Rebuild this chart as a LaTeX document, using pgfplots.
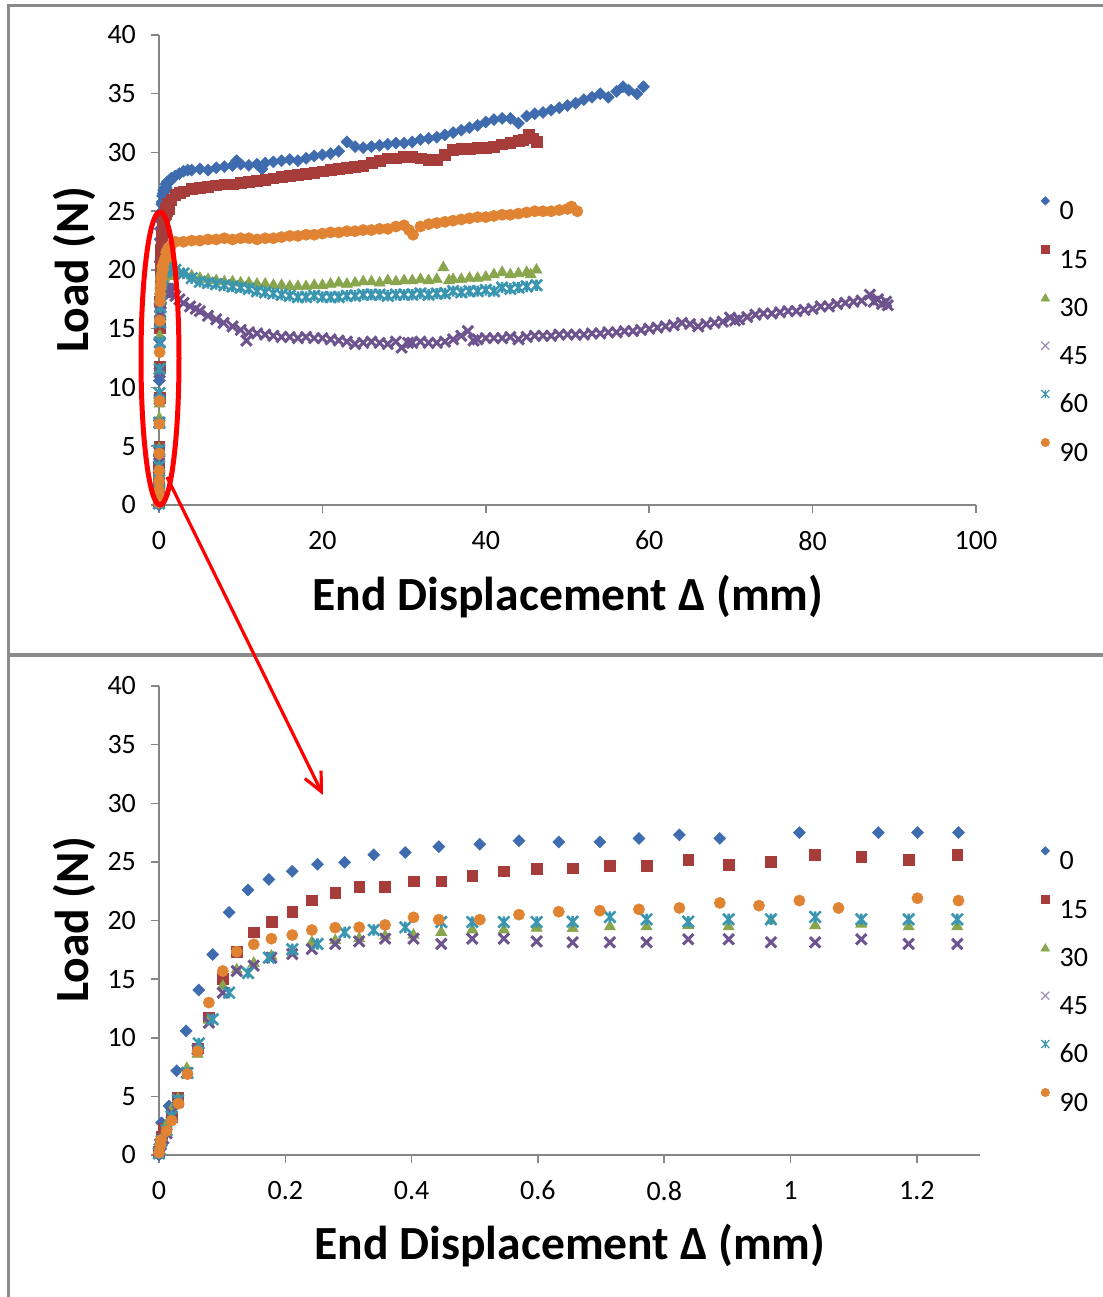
\documentclass[border=0pt]{standalone}
\usepackage{fontspec}
\setmainfont{Carlito}
\usepackage{pgfplots}
\usepackage{pgfplotstable}
\pgfplotsset{compat=1.18}
\usetikzlibrary{arrows.meta}

\definecolor{c0}{RGB}{62,108,174}
\definecolor{c15}{RGB}{166,61,58}
\definecolor{c30}{RGB}{137,165,78}
\definecolor{c45}{RGB}{110,84,142}
\definecolor{c60}{RGB}{58,150,176}
\definecolor{c90}{RGB}{224,132,52}
\definecolor{axgray}{RGB}{134,134,134}
\definecolor{framegray}{RGB}{138,138,138}

\pgfdeclareplotmark{xstar}{%
  \pgfpathmoveto{\pgfqpoint{-\pgfplotmarksize}{-\pgfplotmarksize}}%
  \pgfpathlineto{\pgfqpoint{\pgfplotmarksize}{\pgfplotmarksize}}%
  \pgfpathmoveto{\pgfqpoint{-\pgfplotmarksize}{\pgfplotmarksize}}%
  \pgfpathlineto{\pgfqpoint{\pgfplotmarksize}{-\pgfplotmarksize}}%
  \pgfpathmoveto{\pgfqpoint{0pt}{-\pgfplotmarksize}}%
  \pgfpathlineto{\pgfqpoint{0pt}{\pgfplotmarksize}}%
  \pgfusepathqstroke
}

% ---------- low-range data (0 - 1.27 mm) ----------
\pgfplotstableread{
x y
0 0
0.001 0.6
0.002 1.3
0.004 2.75
0.016 4.18
0.028 7.19
0.043 10.58
0.063 14.07
0.085 17.1
0.111 20.7
0.141 22.6
0.174 23.5
0.211 24.2
0.251 24.8
0.294 24.96
0.340 25.6
0.390 25.8
0.443 26.3
0.508 26.5
0.570 26.8
0.633 26.7
0.698 26.7
0.760 27.0
0.824 27.3
0.888 27.0
1.014 27.5
1.139 27.5
1.201 27.5
1.266 27.5
}\loA
\pgfplotstableread{
x y
0 0.3
0.002 1.0
0.004 1.6
0.008 2.27
0.020 3.27
0.030 4.92
0.061 9.1
0.079 11.74
0.101 15.04
0.123 17.34
0.150 18.99
0.178 19.87
0.211 20.72
0.242 21.72
0.279 22.37
0.317 22.88
0.358 22.88
0.403 23.34
0.447 23.34
0.496 23.8
0.546 24.2
0.598 24.4
0.655 24.45
0.714 24.65
0.772 24.65
0.838 25.2
0.902 24.76
0.969 24.99
1.039 25.6
1.112 25.4
1.187 25.2
1.264 25.6
}\loB
\pgfplotstableread{
x y
0 0.1
0.002 0.7
0.005 1.5
0.012 2.6
0.020 3.9
0.030 4.8
0.044 7.39
0.061 8.6
0.079 11.5
0.101 14.4
0.123 15.8
0.150 16.35
0.178 16.97
0.211 17.34
0.242 18.14
0.279 18.28
0.317 18.45
0.358 18.68
0.403 18.76
0.447 18.99
0.496 19.19
0.546 19.19
0.598 19.36
0.655 19.33
0.714 19.47
0.772 19.47
0.838 19.56
0.902 19.47
0.969 19.98
1.039 19.56
1.112 19.7
1.187 19.47
1.264 19.47
}\loC
\pgfplotstableread{
x y
0 0.2
0.003 0.9
0.007 1.4
0.012 1.85
0.020 3.55
0.030 4.5
0.044 7.0
0.061 9.0
0.079 11.28
0.101 13.84
0.123 15.69
0.150 16.15
0.178 16.83
0.211 17.14
0.242 17.57
0.279 18.0
0.317 18.22
0.358 18.45
0.403 18.45
0.447 18.0
0.496 18.45
0.546 18.45
0.598 18.22
0.655 18.14
0.714 18.14
0.772 18.14
0.838 18.4
0.902 18.4
0.969 18.14
1.039 18.14
1.112 18.4
1.187 18.0
1.264 18.0
}\loD
\pgfplotstableread{
x y
0 0.14
0.001 0.5
0.004 1.2
0.012 2.13
0.020 3.3
0.030 4.69
0.045 7.0
0.063 9.52
0.085 11.57
0.111 13.84
0.141 15.52
0.174 16.83
0.211 17.54
0.251 18.0
0.294 18.99
0.340 19.19
0.390 19.42
0.447 19.87
0.496 19.87
0.546 19.87
0.598 19.87
0.655 19.9
0.714 20.3
0.772 20.1
0.838 19.9
0.902 20.1
0.969 20.1
1.039 20.3
1.112 20.1
1.187 20.1
1.264 20.1
}\loE
\pgfplotstableread{
x y
0 0.2
0.002 0.8
0.003 1.28
0.012 2.05
0.020 2.93
0.031 4.38
0.045 6.9
0.061 8.84
0.079 13.0
0.101 15.69
0.123 17.34
0.150 17.97
0.178 18.45
0.211 18.76
0.242 19.19
0.279 19.39
0.317 19.42
0.358 19.62
0.403 20.27
0.443 20.07
0.508 20.07
0.570 20.5
0.633 20.75
0.698 20.84
0.760 20.95
0.824 21.07
0.888 21.5
0.950 21.27
1.014 21.7
1.076 21.07
1.201 21.9
1.266 21.7
}\loF

% ---------- high-range data (top chart only) ----------
\pgfplotstableread{
x y
1.5 27.8
2 28.0
2.5 28.2
3 28.4
3.5 28.5
4 28.5
5 28.6
6 28.5
7 28.7
8 28.8
9 28.9
9.5 29.3
10 29.0
11 28.9
12 29.0
12.6 28.6
13 29.1
14 29.2
15 29.3
16 29.4
17 29.3
18 29.5
19 29.7
20 29.8
21 29.9
22 30.1
23 30.9
24 30.5
25 30.4
26 30.5
27 30.6
28 30.7
29 30.8
30 30.8
31 30.9
32 31.1
33 31.2
34 31.3
35 31.5
36 31.7
37 31.9
38 32.1
39 32.3
40 32.6
41 32.8
42 32.9
43 32.9
44 32.5
45 33.1
46 33.3
47 33.4
48 33.6
49 33.8
50 34.0
51 34.2
52 34.5
53 34.7
54 35.0
55 34.7
56 35.2
56.8 35.6
57.5 35.3
58.5 35.0
59.3 35.6
}\hiA
\pgfplotstableread{
x y
1.5 26.0
2 26.4
2.5 26.6
3 26.7
4 26.9
5 27.0
6 27.1
7 27.2
8 27.3
9 27.3
10 27.4
11 27.5
12 27.6
13 27.7
14 27.8
15 27.9
16 28.0
17 28.1
18 28.2
19 28.3
20 28.4
21 28.5
22 28.6
23 28.7
24 28.8
25 28.9
26 29.1
27 29.3
28 29.5
29 29.5
30 29.6
31 29.6
32 29.5
33 29.4
34 29.4
35 29.8
36 30.2
37 30.3
38 30.3
39 30.4
40 30.4
41 30.5
42 30.7
43 30.8
44 31.0
44.6 31.1
45.3 31.5
45.8 31.2
46.2 30.9
}\hiB
\pgfplotstableread{
x y
1.5 20.0
2 20.0
3 19.7
4 19.5
5 19.3
6 19.2
7 19.1
8 19.0
9 19.0
10 18.9
11 18.9
12 18.8
13 18.8
14 18.7
15 18.7
16 18.6
17 18.6
18 18.6
19 18.7
20 18.7
21 18.8
22 18.9
23 18.8
24 18.9
25 19.0
26 19.0
27 18.9
28 19.1
29 19.0
30 19.1
31 19.1
32 19.2
33 19.1
34 19.2
34.8 20.2
35.5 19.1
36 19.2
37 19.2
38 19.3
39 19.3
40 19.4
41 19.6
42 19.8
43 19.6
44 19.7
45 19.8
45.5 19.6
46.2 20.0
}\hiC
\pgfplotstableread{
x y
1.3 18.3
2 17.8
2.5 17.5
3 17.2
3.8 16.9
4.5 16.7
5 16.5
6 16.1
7 15.8
7.9 15.5
9 15.2
10 14.9
10.7 14.0
11 14.7
12 14.6
13 14.5
14 14.4
15 14.3
16 14.3
17 14.2
18 14.3
19 14.2
20 14.2
21 14.1
22 14.0
23 13.9
24 13.7
25 13.8
26 13.9
27 13.8
28 13.7
29 13.9
29.7 13.4
30.5 13.8
31 13.8
32 13.9
33 13.8
34 13.8
35 13.9
36 14.1
37 14.4
37.8 14.8
38.5 14.0
39 14.1
40 14.2
41 14.2
42 14.2
43 14.3
44 14.1
45 14.3
46 14.4
47 14.4
48 14.4
49 14.5
50 14.5
51 14.5
52 14.5
53 14.6
54 14.6
55 14.7
56 14.7
57 14.8
58 14.8
59 14.9
60 15.0
61 15.1
62 15.2
63 15.3
64 15.5
65 15.4
66 15.2
67 15.4
68 15.5
69 15.6
69.9 15.95
70.5 15.7
71 15.8
72 16.0
73 16.2
74 16.3
75 16.3
76 16.4
77 16.5
78 16.5
79 16.6
80 16.7
81 16.9
82 16.9
83 17.1
84 17.2
85 17.3
86 17.4
87 17.9
87.5 17.3
88 17.5
88.5 17.1
89 17.3
89.2 17.0
}\hiD
\pgfplotstableread{
x y
1.5 20.1
2 20.0
3 19.7
4 19.3
5 19.0
6 18.9
7 18.8
8 18.7
9 18.6
10 18.5
11 18.4
12 18.2
13 18.1
14 18.0
15 17.9
16 17.8
17 17.7
18 17.7
19 17.8
20 17.7
21 17.7
22 17.7
23 17.8
24 17.8
25 17.9
26 17.9
27 17.9
28 17.8
29 17.9
30 17.9
31 17.9
32 18.0
33 17.9
34 18.0
35 18.0
36 18.2
37 18.1
38 18.2
39 18.2
40 18.3
41 18.2
42 18.5
43 18.4
44 18.5
45 18.6
46.2 18.7
}\hiE
\pgfplotstableread{
x y
1.5 22.1
2 22.4
3 22.4
4 22.5
5 22.5
6 22.6
7 22.6
8 22.7
9 22.6
10 22.7
11 22.7
12 22.6
13 22.7
14 22.7
15 22.8
16 22.9
17 22.9
18 23.0
19 23.0
20 23.1
21 23.2
22 23.2
23 23.3
24 23.3
25 23.4
26 23.4
27 23.5
28 23.5
29 23.7
30 23.8
30.6 23.4
31.1 23.0
32 23.7
33 23.9
34 24.0
35 24.1
36 24.2
37 24.3
38 24.4
39 24.5
40 24.5
41 24.6
42 24.7
43 24.7
44 24.8
45 24.9
46 25.0
47 25.0
48 25.0
49 25.1
50 25.2
50.5 25.4
51.2 25.0
}\hiF

\pgfplotsset{
  sA/.style={only marks, color=c0, mark=square*, mark size=2.1pt,
    mark options={rotate=45, line width=0.3pt},
    legend image code/.code={\draw[only marks, color=c0, mark=square*, mark size=1.45pt, mark options={rotate=45}] plot coordinates {(0pt,4.6pt)};}},
  sB/.style={only marks, color=c15, mark=square*, mark size=2.7pt,
    mark options={line width=0.3pt},
    legend image code/.code={\draw[only marks, color=c15, mark=square*, mark size=2.1pt] plot coordinates {(0pt,4.6pt)};}},
  sC/.style={only marks, color=c30, mark=triangle*, mark size=3.2pt,
    mark options={line width=0.3pt},
    legend image code/.code={\draw[only marks, color=c30, mark=triangle*, mark size=2.5pt] plot coordinates {(0pt,4pt)};}},
  sD/.style={only marks, color=c45, mark=x, mark size=3.7pt,
    mark options={line width=1.5pt},
    legend image code/.code={\draw[only marks, color=c45!70, mark=x, mark size=2.8pt, mark options={line width=0.6pt}] plot coordinates {(0pt,4.6pt)};}},
  sE/.style={only marks, color=c60, mark=xstar, mark size=2.8pt,
    mark options={line width=1.3pt},
    legend image code/.code={\draw[only marks, color=c60, mark=xstar, mark size=2pt, mark options={line width=0.6pt}] plot coordinates {(0pt,4.6pt)};}},
  sF/.style={only marks, color=c90, mark=*, mark size=2.8pt,
    mark options={line width=0.3pt},
    legend image code/.code={\draw[only marks, color=c90, mark=*, mark size=2.1pt] plot coordinates {(0pt,4.6pt)};}},
  common/.style={
    scale only axis,
    axis x line*=bottom, axis y line*=left,
    axis line style={draw=axgray, line width=0.75pt, -},
    x axis line style={-}, y axis line style={-},
    every tick/.style={draw=axgray, line width=0.75pt},
    tick align=outside, major tick length=4pt,
    ymin=0, ymax=40, ytick={0,5,...,40},
    tick label style={font=\fontsize{14}{16}\selectfont, text=black},
    yticklabel style={xshift=-4pt},
    xticklabel style={yshift=-5.5pt},
    /pgf/number format/assume math mode=true,
    clip=false,
    legend cell align=left,
    legend style={draw=none, fill=none, at={(axis description cs:0,0)}, anchor=west,
      xshift=441pt, yshift=87.5pt, inner sep=0pt, outer sep=0pt,
      row sep=11.8pt, column sep=4pt, font=\fontsize{14}{16}\selectfont,
      nodes={inner sep=1pt, text height=9.5pt, text depth=0pt}},
  },
}

\begin{document}
\begin{tikzpicture}
\path[use as bounding box] (0pt,0pt) rectangle (551.5pt,648.5pt);
% frames
\draw[framegray, line width=1.2pt] (4.25pt,0pt) -- (4.25pt,645.75pt) -- (551.5pt,645.75pt);
\draw[framegray, line width=2pt] (4.25pt,321pt) -- (551.5pt,321pt);

% ---------- top chart ----------
\begin{axis}[common,
  at={(79.5pt,396pt)}, anchor=south west,
  width=408.5pt, height=235pt,
  xmin=0, xmax=100, xtick={0,20,40,60,80,100}]
\addplot[sA] table[x=x,y=y] {\loA};
\addlegendentry{0}
\addplot[sA, forget plot] table[x=x,y=y] {\hiA};
\addplot[sB] table[x=x,y=y] {\loB};
\addlegendentry{15}
\addplot[sB, forget plot] table[x=x,y=y] {\hiB};
\addplot[sC] table[x=x,y=y] {\loC};
\addlegendentry{30}
\addplot[sC, forget plot] table[x=x,y=y] {\hiC};
\addplot[sD] table[x=x,y=y] {\loD};
\addlegendentry{45}
\addplot[sD, forget plot] table[x=x,y=y] {\hiD};
\addplot[sE] table[x=x,y=y] {\loE};
\addlegendentry{60}
\addplot[sE, forget plot] table[x=x,y=y] {\hiE};
\addplot[sF] table[x=x,y=y] {\loF};
\addlegendentry{90}
\addplot[sF, forget plot] table[x=x,y=y] {\hiF};
\end{axis}

% ---------- bottom chart ----------
\begin{axis}[common,
  at={(79.5pt,71pt)}, anchor=south west,
  width=410.5pt, height=234.5pt,
  xmin=0, xmax=1.3, xtick={0,0.2,0.4,0.6,0.8,1,1.2}]
\addplot[sA] table[x=x,y=y] {\loA};
\addlegendentry{0}
\addplot[sB] table[x=x,y=y] {\loB};
\addlegendentry{15}
\addplot[sC] table[x=x,y=y] {\loC};
\addlegendentry{30}
\addplot[sD] table[x=x,y=y] {\loD};
\addlegendentry{45}
\addplot[sE] table[x=x,y=y] {\loE};
\addlegendentry{60}
\addplot[sF] table[x=x,y=y] {\loF};
\addlegendentry{90}
\end{axis}

% axis titles
\node[font=\fontsize{23.8}{28}\selectfont\bfseries] at (284pt,350pt) {End Displacement Δ (mm)};
\node[font=\fontsize{23.8}{28}\selectfont\bfseries, rotate=90] at (37pt,513.5pt) {Load (N)};
\node[font=\fontsize{23.8}{28}\selectfont\bfseries] at (285pt,25.5pt) {End Displacement Δ (mm)};
\node[font=\fontsize{23.8}{28}\selectfont\bfseries, rotate=90] at (37pt,188.5pt) {Load (N)};

% annotation
\draw[red, line width=2.5pt] (80pt,469.25pt) ellipse [x radius=9.5pt, y radius=73.25pt];
\draw[red, line width=1.6pt, -{Straight Barb[length=9.5pt, width=9pt]}] (83.5pt,410pt) -- (161.5pt,251pt);
\end{tikzpicture}
\end{document}
